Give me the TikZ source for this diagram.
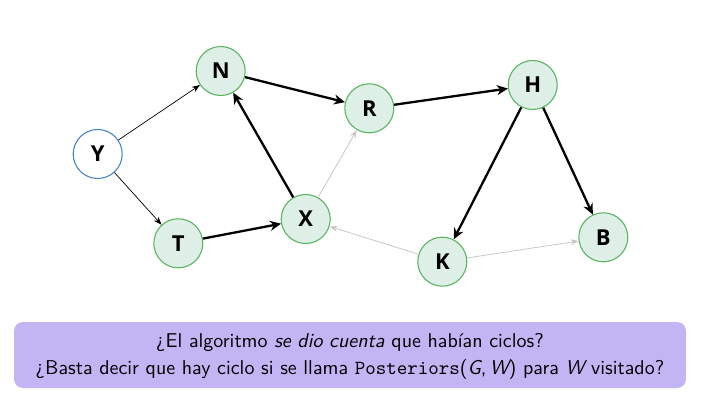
\documentclass[tikz,border=0pt]{standalone}
\usepackage{fontspec}
\newfontfamily\nodefont{Open Sans}
\newfontfamily\boxfont{lmsans10-regular.otf}[ItalicFont=lmsans10-oblique.otf, SlantedFont=lmsans10-oblique.otf]
\newfontfamily\boxmono{lmmono10-regular.otf}
\usetikzlibrary{arrows.meta}
\definecolor{nodefill}{HTML}{DDEFE6}
\definecolor{nodeedge}{HTML}{5DB561}
\definecolor{yedge}{HTML}{4A86C8}
\definecolor{boxfill}{HTML}{C3B4F4}
\definecolor{lightedge}{HTML}{C8C8C8}
\tikzset{
  vert/.style={circle, draw=nodeedge, fill=nodefill, line width=1.1pt, minimum size=49pt, inner sep=0pt, font=\nodefont\bfseries\fontsize{22}{24}\selectfont},
  startvert/.style={vert, draw=yedge, fill=white},
  thinarrow/.style={draw=black, line width=0.7pt, -{Stealth[length=8pt,width=6pt,inset=2.5pt]}},
  thickarrow/.style={draw=black, line width=2.3pt, -{Stealth[length=11pt,width=10pt,inset=3.5pt]}},
  greyarrow/.style={draw=lightedge, line width=0.8pt, -{Stealth[length=8pt,width=6pt,inset=2.5pt]}},
}
\begin{document}
\begin{tikzpicture}[x=1pt,y=-1pt]
\useasboundingbox (0,0) rectangle (707,406);
\node[startvert] (Y) at (97.7,154) {Y};
\node[vert] (N) at (220.7,71) {N};
\node[vert] (R) at (369.3,108.3) {R};
\node[vert] (T) at (178.3,243.3) {T};
\node[vert] (X) at (305.7,219) {X};
\node[vert] (H) at (532.7,85) {H};
\node[vert] (K) at (442.3,261.7) {K};
\node[vert] (B) at (603.3,237.3) {B};
\draw[thinarrow] (Y) -- (N);
\draw[thinarrow] (Y) -- (T);
\draw[thickarrow] (N) -- (R);
\draw[thickarrow] (T) -- (X);
\draw[thickarrow] (X) -- (N);
\draw[thickarrow] (R) -- (H);
\draw[thickarrow] (H) -- (K);
\draw[thickarrow] (H) -- (B);
\draw[greyarrow] (X) -- (R);
\draw[greyarrow] (K) -- (X);
\draw[greyarrow] (K) -- (B);
\node[fill=boxfill, rounded corners=9pt, minimum width=672pt, minimum height=66pt, inner sep=0pt] (box) at (350,355) {};
\node[font=\boxfont\fontsize{20}{27}\selectfont, align=center] (txt) at (350,356) {¿El algoritmo \textsl{se dio cuenta} que habían ciclos?\\ ¿Basta decir que hay ciclo si se llama {\boxmono Posteriors}({\slshape G},\,{\slshape W}) para {\slshape W} visitado?};
\end{tikzpicture}
\end{document}
